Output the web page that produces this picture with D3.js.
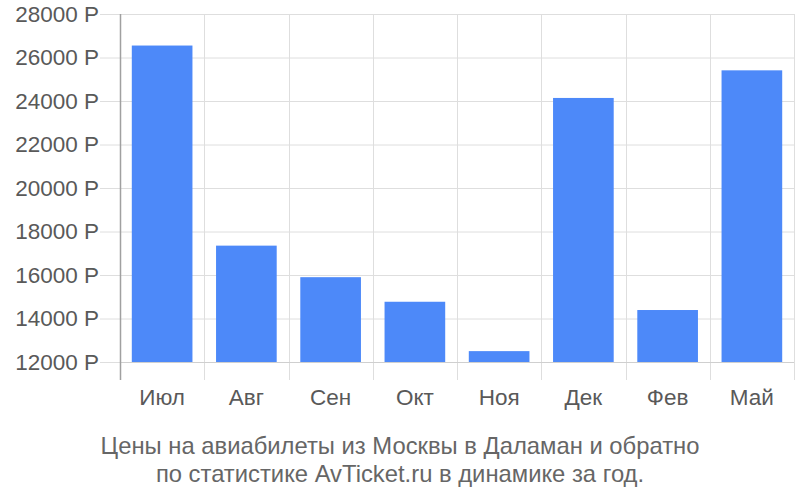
<!DOCTYPE html>
<html><head><meta charset="utf-8">
<script src="https://cdn.jsdelivr.net/npm/d3@7"></script>
<style>body{margin:0;background:#fff}svg{display:block}</style>
</head><body>
<svg id="c" width="800" height="500"></svg>
<script>
const categories = ["Июл","Авг","Сен","Окт","Ноя","Дек","Фев","Май"];
const prices = [26550, 17350, 15900, 14770, 12500, 24140, 14390, 25410];
const yTicks = [12000,14000,16000,18000,20000,22000,24000,26000,28000];
const titleLines = ["Цены на авиабилеты из Москвы в Даламан и обратно","по статистике AvTicket.ru в динамике за год."];

(function(){
const svg = d3.select("#c");
const pLeft=120, pRight=794, pTop=14, pBottom=362;
const font = "'Liberation Sans', Arial, sans-serif";
const x = d3.scaleBand().domain(categories).range([pLeft,pRight]).padding(0);
const y = d3.scaleLinear().domain([12000,28000]).range([pBottom,pTop]);

// horizontal grid
svg.append("g").selectAll("line").data(yTicks).join("line")
  .attr("x1",100).attr("x2",pRight).attr("y1",d=>y(d)+0.5).attr("y2",d=>y(d)+0.5)
  .attr("stroke","#dedede").attr("stroke-width",1);
// vertical grid
const bounds = categories.map(c=>x(c)).concat([pRight]);
svg.append("g").selectAll("line").data(bounds.slice(1)).join("line")
  .attr("x1",d=>Math.round(d)+0.5).attr("x2",d=>Math.round(d)+0.5).attr("y1",pTop).attr("y2",380)
  .attr("stroke","#dedede").attr("stroke-width",1);
// bars
svg.append("g").selectAll("rect").data(prices).join("rect")
  .attr("x",(d,i)=>x(categories[i])+x.bandwidth()*0.14)
  .attr("width",x.bandwidth()*0.72)
  .attr("y",d=>y(d)).attr("height",d=>y(12000)-y(d))
  .attr("fill","#4d89f9");
// baseline
svg.append("line").attr("x1",pLeft).attr("x2",pRight).attr("y1",pBottom+0.5).attr("y2",pBottom+0.5)
  .attr("stroke","#cfcfcf");
// left axis line
svg.append("line").attr("x1",pLeft+0.5).attr("x2",pLeft+0.5).attr("y1",pTop).attr("y2",380)
  .attr("stroke","#a0a0a0").attr("stroke-width",1.5);
// y labels
svg.append("g").selectAll("text").data(yTicks).join("text")
  .attr("x",99).attr("y",d=>y(d)+7.5).attr("text-anchor","end")
  .attr("font-family",font).attr("font-size",22.5).attr("fill","#595959")
  .text(d=>d+" Р");
// x labels
svg.append("g").selectAll("text").data(categories).join("text")
  .attr("x",d=>x(d)+x.bandwidth()/2).attr("y",405).attr("text-anchor","middle")
  .attr("font-family",font).attr("font-size",22.5).attr("fill","#595959")
  .text(d=>d);
// title
svg.append("g").selectAll("text").data(titleLines).join("text")
  .attr("x",400).attr("y",(d,i)=>454+i*28).attr("text-anchor","middle")
  .attr("font-family",font).attr("font-size",23.8).attr("fill","#666")
  .text(d=>d);
})();
</script>
</body></html>
